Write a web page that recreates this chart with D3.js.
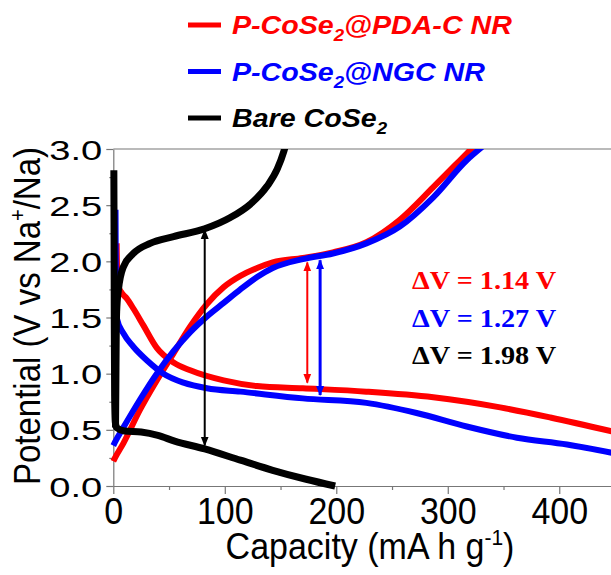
<!DOCTYPE html>
<html>
<head>
<meta charset="utf-8">
<script src="https://cdn.jsdelivr.net/npm/d3@7"></script>
<style>
  body { margin: 0; background: #fff; }
  svg { display: block; }
  .axis path, .axis line { stroke: #777; stroke-width: 1.2px; }
  .axis text { font-family: Arial, "Liberation Sans", sans-serif; fill: #000; }
</style>
</head>
<body>
<svg width="611" height="575"></svg>
<script>
// series: [capacity (mA h g-1), potential (V)]
var redDischarge = [[3,2.16],[3.4,1.92],[4.5,1.78],[7.5,1.72],[12,1.67],[18,1.58],[27,1.43],[39,1.23],[54,1.1],[69,1.03],[99,0.94],[129,0.89],[170,0.87],[227,0.84],[287,0.79],[347,0.7],[392,0.61],[450,0.48]];
var redCharge = [[0,0.22],[1.5,0.25],[9,0.38],[24,0.68],[39,0.94],[54,1.18],[69,1.42],[84,1.62],[99,1.77],[114,1.87],[129,1.94],[143,1.99],[170,2.03],[197,2.08],[227,2.17],[257,2.37],[287,2.66],[317,2.96],[323,3.02]];
var blueDischarge = [[2,2.46],[2.2,2.0],[2.5,1.62],[3,1.5],[9,1.36],[18,1.24],[30,1.12],[45,1.0],[63,0.92],[84,0.87],[114,0.84],[170,0.78],[227,0.74],[272,0.65],[317,0.53],[362,0.43],[407,0.37],[450,0.29]];
var blueCharge = [[0,0.36],[1.5,0.39],[9,0.52],[24,0.77],[39,1.0],[54,1.2],[69,1.37],[84,1.51],[99,1.63],[114,1.75],[129,1.86],[143,1.94],[170,2.02],[197,2.07],[227,2.16],[257,2.31],[287,2.57],[317,2.9],[331,3.02]];
var blackDischarge = [[0.5,2.81],[0.7,2.2],[0.9,1.4],[1.2,0.8],[1.8,0.57],[3,0.52],[10,0.49],[25,0.48],[40,0.45],[55,0.4],[82,0.33],[114,0.23],[143,0.14],[173,0.06],[199,0.0]];
var blackCharge = [[2,0.52],[2.3,0.9],[2.6,1.3],[3,1.55],[4.5,1.74],[9,1.95],[18,2.07],[33,2.16],[54,2.22],[82,2.29],[105,2.39],[123,2.51],[138,2.67],[147,2.82],[153,2.98],[155,3.05]];

var seriesNames = ["P-CoSe\u2082@PDA-C NR", "P-CoSe\u2082@NGC NR", "Bare CoSe\u2082"];
var seriesColors = ["#ff0000", "#0000ff", "#000000"];

// voltage hysteresis markers: [capacity, top V, bottom V]
var gapArrows = [[174, 1.99, 0.92], [185.5, 2.01, 0.81], [82, 2.28, 0.36]];
var gapLabels = ["\u0394V = 1.14 V", "\u0394V = 1.27 V", "\u0394V = 1.98 V"];

var xMajor = [0, 100, 200, 300, 400];
var xMinor = [50, 150, 250, 350, 450];
var yMajor = [0, 0.5, 1.0, 1.5, 2.0, 2.5, 3.0];
var yMinor = [0.25, 0.75, 1.25, 1.75, 2.25, 2.75];

var svg = d3.select("svg");
var x = d3.scaleLinear().domain([0, 450]).range([113.3, 615]);
var y = d3.scaleLinear().domain([0, 3]).range([486, 149]);

// frame
svg.append("line").attr("x1", x(0)).attr("x2", x(450)).attr("y1", y(3)).attr("y2", y(3))
  .attr("stroke", "#777").attr("stroke-width", 1.2);
svg.append("line").attr("x1", x(450)).attr("x2", x(450)).attr("y1", y(3)).attr("y2", y(0))
  .attr("stroke", "#777").attr("stroke-width", 1.2);

// x axis
var gx = svg.append("g").attr("class", "axis").attr("transform", "translate(0," + y(0) + ")")
  .call(d3.axisBottom(x).tickValues(xMajor).tickSize(8).tickSizeOuter(0).tickFormat(d3.format("d")));
gx.selectAll("text").attr("font-size", 34).attr("dy", 0).attr("y", 0)
  .attr("transform", "translate(0,38) scale(1,1.1)");
svg.append("g").attr("class", "axis").attr("transform", "translate(0," + y(0) + ")")
  .call(d3.axisBottom(x).tickValues(xMinor).tickSize(4).tickSizeOuter(0).tickFormat(""))
  .select(".domain").remove();

// y axis
var gy = svg.append("g").attr("class", "axis").attr("transform", "translate(" + x(0) + ",0)")
  .call(d3.axisLeft(y).tickValues(yMajor).tickSize(7).tickSizeOuter(0).tickFormat(d3.format(".1f")));
gy.selectAll("text").attr("font-size", 28).attr("x", 0).attr("dy", 0)
  .attr("transform", "translate(-11,10) scale(1.36,1)");
svg.append("g").attr("class", "axis").attr("transform", "translate(" + x(0) + ",0)")
  .call(d3.axisLeft(y).tickValues(yMinor).tickSize(4).tickSizeOuter(0).tickFormat(""))
  .select(".domain").remove();

// axis titles
var xt = svg.append("text").attr("transform", "translate(370,559) scale(1,1.08)")
  .attr("text-anchor", "middle").attr("font-family", "Arial, 'Liberation Sans', sans-serif")
  .attr("font-size", 34).text("Capacity (mA h g");
xt.append("tspan").attr("dy", -13).attr("font-size", 21).text("-1");
xt.append("tspan").attr("dy", 13).text(")");

var yt = svg.append("text").attr("transform", "translate(40,316) rotate(-90) scale(1,1.14)")
  .attr("text-anchor", "middle").attr("font-family", "Arial, 'Liberation Sans', sans-serif")
  .attr("font-size", 33).text("Potential (V vs Na");
yt.append("tspan").attr("dy", -13).attr("font-size", 20).text("+");
yt.append("tspan").attr("dy", 13).text("/Na)");

// curves
svg.append("defs").append("clipPath").attr("id", "plot")
  .append("rect").attr("x", 100).attr("y", y(3)).attr("width", 520).attr("height", 360);

var line = d3.line().x(d => x(d[0])).y(d => y(d[1])).curve(d3.curveMonotoneX);
var curves = [
  [redDischarge, 0], [redCharge, 0],
  [blueDischarge, 1], [blueCharge, 1],
  [blackDischarge, 2], [blackCharge, 2]
];
var plot = svg.append("g").attr("clip-path", "url(#plot)");
plot.selectAll("path.curve").data(curves).enter().append("path")
  .attr("class", "curve")
  .attr("d", d => line(d[0]))
  .attr("fill", "none")
  .attr("stroke", d => seriesColors[d[1]])
  .attr("stroke-width", d => d[1] == 2 ? 7 : 6)
  .attr("stroke-linejoin", "round");

// arrows
var defs = svg.select("defs");
seriesColors.forEach(function(c, i) {
  defs.append("marker").attr("id", "head" + i)
    .attr("viewBox", "0 0 10 10").attr("refX", 9).attr("refY", 5)
    .attr("markerWidth", 10).attr("markerHeight", 10).attr("markerUnits", "userSpaceOnUse")
    .attr("orient", "auto-start-reverse")
    .append("path").attr("d", "M0,1L10,5L0,9Z").attr("fill", c);
});
svg.selectAll("line.gap").data(gapArrows).enter().append("line")
  .attr("class", "gap")
  .attr("x1", d => x(d[0])).attr("x2", d => x(d[0]))
  .attr("y1", d => y(d[1])).attr("y2", d => y(d[2]))
  .attr("stroke", (d, i) => seriesColors[i])
  .attr("stroke-width", (d, i) => i == 1 ? 3 : 2)
  .attr("marker-start", (d, i) => "url(#head" + i + ")")
  .attr("marker-end", (d, i) => "url(#head" + i + ")");

svg.selectAll("text.gap").data(gapLabels).enter().append("text")
  .attr("class", "gap")
  .attr("transform", (d, i) => "translate(412," + (289 + i * 37.5) + ") scale(1.13,1)")
  .attr("font-family", "'Times New Roman', 'Liberation Serif', serif")
  .attr("font-weight", "bold").attr("font-size", 25)
  .attr("fill", (d, i) => seriesColors[i])
  .text(d => d);

// legend
var leg = svg.selectAll("g.leg").data(seriesNames).enter().append("g")
  .attr("class", "leg").attr("transform", (d, i) => "translate(0," + (25 + i * 46.5) + ")");
leg.append("line").attr("x1", 188).attr("x2", 221).attr("y1", 0).attr("y2", 0)
  .attr("stroke", (d, i) => seriesColors[i]).attr("stroke-width", 5);
leg.each(function(d, i) {
  var t = d3.select(this).append("text").attr("transform", "translate(232,9) scale(1.1,1)")
    .attr("font-family", "Arial, 'Liberation Sans', sans-serif")
    .attr("font-weight", "bold").attr("font-style", "italic").attr("font-size", 26)
    .attr("fill", seriesColors[i]);
  var parts = d.split("\u2082");
  t.append("tspan").text(parts[0]);
  t.append("tspan").attr("dy", 7).attr("font-size", 17).text("2");
  t.append("tspan").attr("dy", -7).text(parts[1]);
});
</script>
</body>
</html>
